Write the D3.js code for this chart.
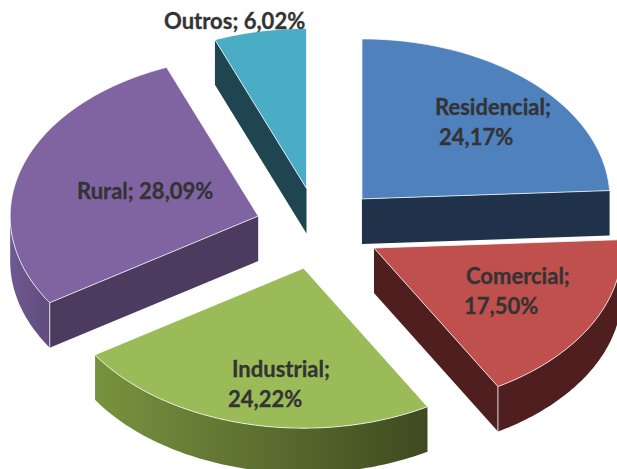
<!DOCTYPE html>
<html>
<head>
<meta charset="utf-8">
<style>
    html, body { margin: 0; padding: 0; background: #fff; overflow: hidden; }
    .chart-labels { font-family: Lato, "Open Sans", sans-serif; font-weight: 700; font-size: 22px; fill: #333333; stroke: #333333; stroke-width: 0.3px; }
</style>
</head>
<body>
<div id="pie-chart"></div>
<script src="https://cdn.jsdelivr.net/npm/d3@7"></script>
<script>
const categories = ["Residencial", "Comercial", "Industrial", "Rural", "Outros"];
const shares = [24.17, 17.50, 24.22, 28.09, 6.02];
const shareLabels = ["24,17%", "17,50%", "24,22%", "28,09%", "6,02%"];

const topColors = ["#4F81BD", "#C0504D", "#9BBB59", "#8064A2", "#4BACC6"];
const wallColors = ["#1F3249", "#4E1F1E", "url(#wall-industrial)", "url(#wall-rural)", "#1F4650"];

(function () {
    /* ----------------------- Dimensions ----------------------- */
    const width = 617;
    const height = 469;
    const center = { x: 318.4, y: 228.5 };
    const radiusX = 248;
    const radiusY = 160;
    const depth = 45;
    const explode = 0.255; // every slice is pulled out by this share of the radius

    const svg = d3
        .select("#pie-chart")
        .append("svg")
        .attr("width", width)
        .attr("height", height)
        .attr("viewBox", `0 0 ${width} ${height}`)
        .style("display", "block");

    /* ----------------------- Scales ----------------------- */
    // unit circle -> flattened ellipse on the page
    const x = d3.scaleLinear().domain([-1, 1]).range([center.x - radiusX, center.x + radiusX]);
    const y = d3.scaleLinear().domain([-1, 1]).range([center.y - radiusY, center.y + radiusY]);

    const pie = d3.pie().sort(null).startAngle(0).endAngle(2 * Math.PI);
    const slices = pie(shares).map((d, i) => {
        const mid = (d.startAngle + d.endAngle) / 2;
        return {
            ...d,
            index: i,
            apex: [Math.sin(mid) * explode, -Math.cos(mid) * explode],
        };
    });

    const line = d3.line().x((d) => x(d[0])).y((d) => y(d[1]) + (d[2] || 0));

    // point on the rim of a slice, in unit coordinates
    function rim(s, angle, drop) {
        return [s.apex[0] + Math.sin(angle), s.apex[1] - Math.cos(angle), drop];
    }

    function arcPoints(s, a0, a1, drop) {
        const n = Math.max(2, Math.ceil((a1 - a0) * 60));
        return d3.range(n + 1).map((k) => rim(s, a0 + ((a1 - a0) * k) / n, drop));
    }

    /* ----------------------- Wall gradients ----------------------- */
    const defs = svg.append("defs");

    function addGradient(id, x1, x2, from, to) {
        const g = defs.append("linearGradient")
            .attr("id", id)
            .attr("gradientUnits", "userSpaceOnUse")
            .attr("x1", x1).attr("x2", x2)
            .attr("y1", 0).attr("y2", 0);
        g.append("stop").attr("offset", "0%").attr("stop-color", from);
        g.append("stop").attr("offset", "100%").attr("stop-color", to);
    }

    addGradient("wall-industrial", x(slices[2].apex[0] - 0.84), x(slices[2].apex[0] + 0.5), "#78933F", "#3F4A20");
    addGradient("wall-rural", x(slices[3].apex[0] - 1), x(slices[3].apex[0] - 0.84), "#6E5890", "#614C7C");

    /* ----------------------- Draw the slices ----------------------- */
    const front0 = Math.PI / 2;
    const front1 = (3 * Math.PI) / 2;

    const groups = svg.selectAll(".slice")
        .data(slices)
        .enter()
        .append("g")
        .attr("class", "slice");

    // radial walls: the edge facing the viewer
    groups.each(function (s) {
        const g = d3.select(this);
        const apexTop = [s.apex[0], s.apex[1], 0];
        const apexBottom = [s.apex[0], s.apex[1], depth];
        const solid = s.index === 2 || s.index === 3 ? "#4D3A5F" : wallColors[s.index];

        // leading edge, seen when it points at the lower half going clockwise
        if (Math.sin(s.endAngle) > 0 && s.endAngle < Math.PI) {
            g.append("path")
                .attr("d", line([apexTop, rim(s, s.endAngle, 0), rim(s, s.endAngle, depth), apexBottom]) + "Z")
                .attr("fill", solid);
        }
        if (s.startAngle > Math.PI) {
            g.append("path")
                .attr("d", line([apexTop, rim(s, s.startAngle, 0), rim(s, s.startAngle, depth), apexBottom]) + "Z")
                .attr("fill", solid);
        }

        // curved wall along the front of the rim
        const a0 = Math.max(s.startAngle, front0);
        const a1 = Math.min(s.endAngle, front1);
        if (a1 > a0) {
            const upper = arcPoints(s, a0, a1, 0);
            const lower = arcPoints(s, a0, a1, depth).reverse();
            g.append("path")
                .attr("d", line(upper.concat(lower)) + "Z")
                .attr("fill", wallColors[s.index]);
        }

        // thin light line on the visible corner of the wall
        const corner = s.index === 1 ? s.endAngle : s.index === 3 ? s.startAngle : null;
        if (corner !== null) {
            g.append("path")
                .attr("d", line([rim(s, corner, 0), rim(s, corner, depth)]))
                .attr("fill", "none")
                .attr("stroke", "#E4DDE2")
                .attr("stroke-width", 1);
        }

        // top face
        const top = [apexTop].concat(arcPoints(s, s.startAngle, s.endAngle, 0));
        g.append("path")
            .attr("d", line(top) + "Z")
            .attr("fill", topColors[s.index])
            .attr("stroke", "#FFFFFF")
            .attr("stroke-opacity", 0.75)
            .attr("stroke-width", 1)
            .attr("stroke-linejoin", "round");
    });

    /* ----------------------- Data labels ----------------------- */
    // left edge and baseline of every label line
    const labelSpots = [
        [[435, 115], [439, 145]],
        [[466, 284], [464, 314]],
        [[232, 377], [228, 407]],
        [[77, 199]],
        [[164, 29]],
    ];

    categories.forEach((name, i) => {
        const spot = labelSpots[i];
        const lines = spot.length === 2
            ? [`${name};`, shareLabels[i]]
            : [`${name}; ${shareLabels[i]}`];
        lines.forEach((txt, k) => {
            svg.append("text")
                .attr("class", "chart-labels")
                .attr("x", spot[k][0])
                .attr("y", spot[k][1])
                .text(txt);
        });
    });
})();
</script>
</body>
</html>
